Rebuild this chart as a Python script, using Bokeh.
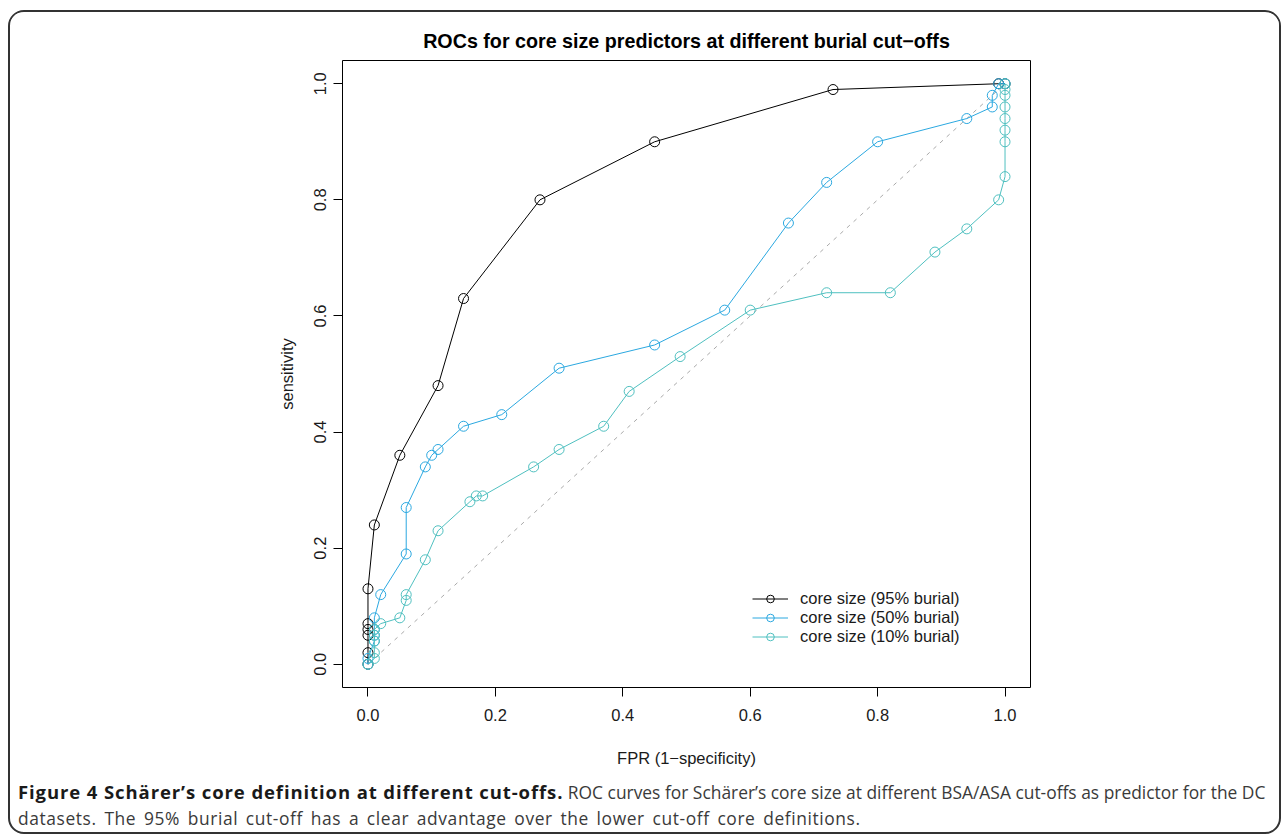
from bokeh.plotting import figure
from bokeh.models import (Range1d, FixedTicker, PrintfTickFormatter, Legend, LegendItem, Div)
from bokeh.layouts import column
from bokeh.embed import file_html
from bokeh.resources import INLINE

# ---- data ----
fpr_95 = [0.0, 0.0, 0.0, 0.0, 0.0, 0.0, 0.01, 0.05, 0.11, 0.15, 0.27, 0.45, 0.73, 0.99, 1.0]
tpr_95 = [0.0, 0.02, 0.05, 0.06, 0.07, 0.13, 0.24, 0.36, 0.48, 0.63, 0.80, 0.90, 0.99, 1.0, 1.0]

fpr_50 = [0.0, 0.0, 0.01, 0.01, 0.01, 0.01, 0.02, 0.06, 0.06, 0.09, 0.10, 0.11, 0.15, 0.21,
          0.30, 0.45, 0.56, 0.66, 0.72, 0.80, 0.94, 0.98, 0.98, 0.99, 1.0]
tpr_50 = [0.0, 0.01, 0.04, 0.05, 0.06, 0.08, 0.12, 0.19, 0.27, 0.34, 0.36, 0.37, 0.41, 0.43,
          0.51, 0.55, 0.61, 0.76, 0.83, 0.90, 0.94, 0.96, 0.98, 1.0, 1.0]

fpr_10 = [0.0, 0.01, 0.01, 0.01, 0.01, 0.01, 0.02, 0.05, 0.06, 0.06, 0.09, 0.11, 0.16, 0.17,
          0.18, 0.26, 0.30, 0.37, 0.41, 0.49, 0.60, 0.72, 0.82, 0.89, 0.94, 0.99, 1.0, 1.0,
          1.0, 1.0, 1.0, 1.0, 1.0, 1.0]
tpr_10 = [0.0, 0.01, 0.02, 0.04, 0.05, 0.06, 0.07, 0.08, 0.11, 0.12, 0.18, 0.23, 0.28, 0.29,
          0.29, 0.34, 0.37, 0.41, 0.47, 0.53, 0.61, 0.64, 0.64, 0.71, 0.75, 0.80, 0.84, 0.90,
          0.92, 0.94, 0.96, 0.98, 0.99, 1.0]

diag_x = [0.0, 1.0]
diag_y = [0.0, 1.0]

series_labels = ["core size (95% burial)", "core size (50% burial)", "core size (10% burial)"]
series_colors = ["#000000", "#2BA8E0", "#4FC0C0"]
tick_values = [0.0, 0.2, 0.4, 0.6, 0.8, 1.0]

title_text = "ROCs for core size predictors at different burial cut\u2212offs"
xlabel = "FPR (1\u2212specificity)"
ylabel = "sensitivity"

FONT = "Liberation Sans"
FS = "16.5px"

p = figure(frame_width=688, frame_height=627,
           min_border_left=332, min_border_right=249, min_border_top=48, min_border_bottom=83,
           x_range=Range1d(-0.04, 1.04), y_range=Range1d(-0.04, 1.04),
           output_backend="svg", toolbar_location=None, title=title_text)

p.title.align = "center"
p.title.text_font = FONT
p.title.text_font_size = "19.7px"
p.title.text_font_style = "bold"
p.title.text_color = "#000000"
p.title.standoff = 18

p.outline_line_color = "#000000"
p.outline_line_width = 1
p.grid.visible = False
p.background_fill_color = "white"
p.border_fill_color = "white"

for ax in (p.xaxis, p.yaxis):
    ax.ticker = FixedTicker(ticks=tick_values)
    ax.formatter = PrintfTickFormatter(format="%.1f")
    ax.axis_line_color = None
    ax.major_tick_line_color = "#000000"
    ax.major_tick_out = 9
    ax.major_tick_in = 0
    ax.minor_tick_line_color = None
    ax.major_label_text_font = FONT
    ax.major_label_text_font_size = FS
    ax.major_label_text_color = "#1a1a1a"
    ax.axis_label_text_font = FONT
    ax.axis_label_text_font_size = FS
    ax.axis_label_text_font_style = "normal"
    ax.axis_label_text_color = "#1a1a1a"

p.xaxis.axis_label = xlabel
p.yaxis.axis_label = ylabel
p.yaxis.major_label_orientation = "vertical"
p.xaxis.major_label_standoff = 12
p.yaxis.major_label_standoff = 7
p.xaxis.axis_label_standoff = 25
p.yaxis.axis_label_standoff = 16

p.line(diag_x, diag_y, line_color="#AAAAAA", line_width=1, line_dash="4 5")

items = []
for fx, ty, lab, col in [(fpr_95, tpr_95, series_labels[0], series_colors[0]),
                         (fpr_50, tpr_50, series_labels[1], series_colors[1]),
                         (fpr_10, tpr_10, series_labels[2], series_colors[2])]:
    lr = p.line(fx, ty, line_color=col, line_width=1)
    sr = p.scatter(fx, ty, marker="circle", size=10, fill_color=None, line_color=col, line_width=1)
    items.append(LegendItem(label=lab, renderers=[lr, sr]))

legend = Legend(items=items, location=(410, 41), orientation="vertical",
                border_line_color=None, background_fill_alpha=0, padding=0, margin=0, spacing=0,
                glyph_width=36, glyph_height=19, label_height=19, label_standoff=12,
                label_text_font=FONT, label_text_font_size=FS, label_text_color="#1a1a1a")
p.add_layout(legend)

caption = Div(
    text=("<div style=\"font-family:'Open Sans';font-size:17.4px;line-height:26px;color:#3a3a3a;"
          "padding:9px 0 0 8px;white-space:nowrap;\">"
          "<span style=\"font-weight:bold;color:#1a1a1a;font-size:18.5px;letter-spacing:0.9px;\">"
          "Figure 4 Sch\u00e4rer\u2019s core definition at different cut-offs.</span>"
          " ROC curves for Sch\u00e4rer\u2019s core size at different BSA/ASA cut-offs as predictor for the DC<br>"
          "<span style=\"letter-spacing:0.6px;word-spacing:2.6px;\">"
          "datasets. The 95% burial cut-off has a clear advantage over the lower cut-off core definitions.</span></div>"),
    width=1269, height=62, margin=0)

layout = column(p, caption, margin=(10, 0, 0, 8),
                styles={"border": "2px solid #333333", "border-radius": "16px", "overflow": "hidden"})

open("out.html", "w").write(file_html(layout, INLINE))
